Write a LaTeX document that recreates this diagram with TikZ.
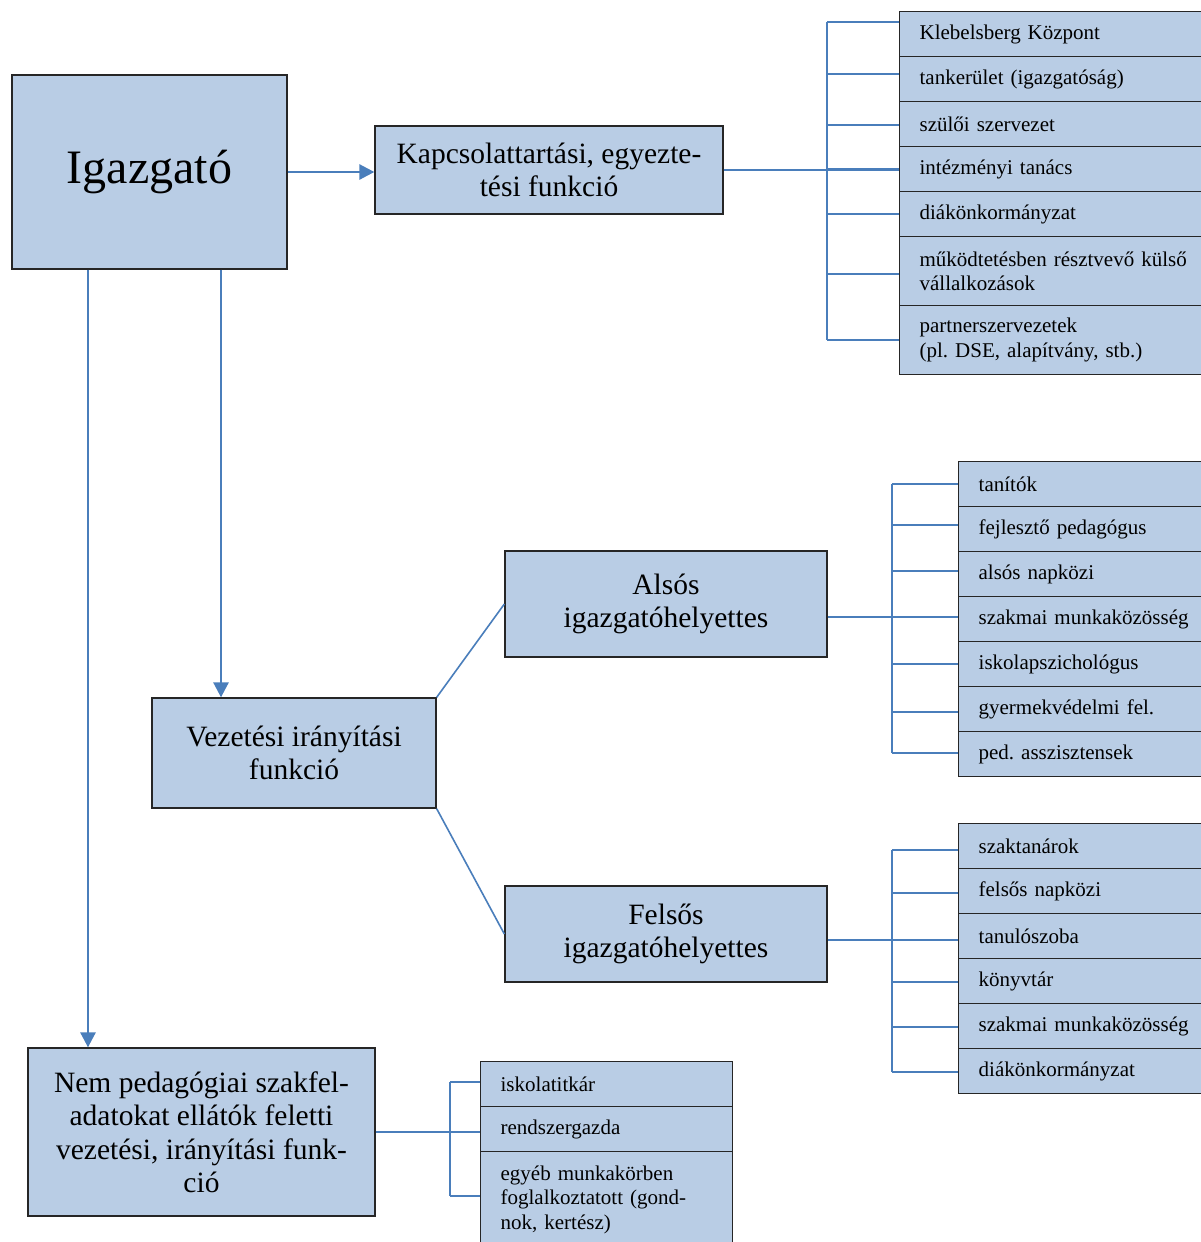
\documentclass[tikz,border=0pt]{standalone}
\usepackage{fontspec}
\setmainfont{Liberation Serif}
\usetikzlibrary{arrows.meta,calc}
\definecolor{boxfill}{HTML}{B9CDE5}
\definecolor{linkblue}{HTML}{4A7EBB}
\frenchspacing
\begin{document}
\begin{tikzpicture}[x=1pt,y=-1pt,
 box/.style={draw=black!85, line width=1.3pt, fill=boxfill, align=center, inner sep=0pt, font=\fontsize{29.5}{33.5}\selectfont},
 row/.style={draw=black!85, line width=1.3pt, fill=boxfill, align=left, inner xsep=20pt, inner ysep=0pt, anchor=north west, text width=300pt, font=\fontsize{21}{24.5}\selectfont},
 arr/.style={linkblue, line width=2.7pt, -{Triangle[length=15pt,width=15pt]}},
 link/.style={linkblue, line width=2pt},
 diag/.style={linkblue, line width=1.6pt},
]
\useasboundingbox[fill=white] (0,0) rectangle (1201,1242);

% main boxes
\node[box, minimum width=275pt, minimum height=194pt, font=\fontsize{48}{55}\selectfont] (igaz) at (149.5,172) {Igazgató};
\node[box, minimum width=348pt, minimum height=88pt] (kap) at (549,170) {Kapcsolattartási, egyezte-\\tési funkció};
\node[box, minimum width=284pt, minimum height=110pt] (vez) at (294,753) {Vezetési irányítási\\funkció};
\node[box, minimum width=322pt, minimum height=106pt] (also) at (666,604) {Alsós\\igazgatóhelyettes};
\node[box, minimum width=322pt, minimum height=96pt] (fel) at (666,934) {Felsős\\igazgatóhelyettes};
\node[box, minimum width=347pt, minimum height=168pt] (nem) at (201.5,1132) {Nem pedagógiai szakfel-\\adatokat ellátók feletti\\vezetési, irányítási funk-\\ció};

% top list
\node[row, minimum height=45pt] (k1) at (899,11) {Klebelsberg Központ};
\node[row, minimum height=45pt] (k2) at (899,56) {tankerület (igazgatóság)};
\node[row, minimum height=45pt] (k3) at (899,101) {szülői szervezet};
\node[row, minimum height=45pt] (k4) at (899,146) {intézményi tanács};
\node[row, minimum height=45pt] (k5) at (899,191) {diákönkormányzat};
\node[row, minimum height=69pt] (k6) at (899,236) {működtetésben résztvevő külső\\vállalkozások};
\node[row, minimum height=69pt] (k7) at (899,305) {partnerszervezetek\\(pl. DSE, alapítvány, stb.)};

% alsós list
\node[row, minimum height=45pt] (a1) at (958,461) {tanítók};
\node[row, minimum height=45pt] (a2) at (958,506) {fejlesztő pedagógus};
\node[row, minimum height=45pt] (a3) at (958,551) {alsós napközi};
\node[row, minimum height=45pt] (a4) at (958,596) {szakmai munkaközösség};
\node[row, minimum height=45pt] (a5) at (958,641) {iskolapszichológus};
\node[row, minimum height=45pt] (a6) at (958,686) {gyermekvédelmi fel.};
\node[row, minimum height=45pt] (a7) at (958,731) {ped. asszisztensek};

% felsős list
\node[row, minimum height=45pt] (f1) at (958,823) {szaktanárok};
\node[row, minimum height=45pt] (f2) at (958,868) {felsős napközi};
\node[row, minimum height=45pt] (f3) at (958,913) {tanulószoba};
\node[row, minimum height=45pt] (f4) at (958,958) {könyvtár};
\node[row, minimum height=45pt] (f5) at (958,1003) {szakmai munkaközösség};
\node[row, minimum height=45pt] (f6) at (958,1048) {diákönkormányzat};

% bottom list
\node[row, text width=212pt, minimum height=45pt] (b1) at (480,1061) {iskolatitkár};
\node[row, text width=212pt, minimum height=45pt] (b2) at (480,1106) {rendszergazda};
\node[row, text width=212pt, minimum height=96pt] (b3) at (480,1151) {egyéb munkakörben\\foglalkoztatott (gond-\\nok, kertész)};

% arrows from Igazgató
\draw[arr] (igaz.east) -- (kap.west |- igaz.east);
\draw[arr] ([xshift=71.5pt]igaz.south) coordinate (s1) -- (s1 |- vez.north);
\draw[arr] ([xshift=-61.5pt]igaz.south) coordinate (s2) -- (s2 |- nem.north);

% diagonals
\draw[diag] (vez.north east) -- (also.west);
\draw[diag] (vez.south east) -- (fel.west);

% top tree
\coordinate (tk) at (827,0);
\draw[link] (kap.east) -- (kap.east -| k1.west);
\draw[link] (tk |- 0,22) -- (tk |- 0,340);
\foreach \n/\y in {k1/22,k2/74,k3/125,k4/169,k5/214,k6/274,k7/340}
  \draw[link] (tk |- 0,\y) -- (\n.west |- 0,\y);

% alsós tree
\coordinate (ta) at (892,0);
\draw[link] (also.east |- 0,617) -- (a4.west |- 0,617);
\draw[link] (ta |- 0,484) -- (ta |- 0,753);
\foreach \n/\y in {a1/484,a2/525,a3/571,a5/664,a6/712,a7/753}
  \draw[link] (ta |- 0,\y) -- (\n.west |- 0,\y);

% felsős tree
\coordinate (tf) at (892,0);
\draw[link] (fel.east |- 0,940) -- (f3.west |- 0,940);
\draw[link] (tf |- 0,850) -- (tf |- 0,1072);
\foreach \n/\y in {f1/850,f2/893,f4/982,f5/1027,f6/1072}
  \draw[link] (tf |- 0,\y) -- (\n.west |- 0,\y);

% bottom tree
\coordinate (tb) at (450,0);
\draw[link] (nem.east) -- (nem.east -| b2.west);
\draw[link] (tb |- 0,1082) -- (tb |- 0,1196);
\foreach \n/\y in {b1/1082,b3/1196}
  \draw[link] (tb |- 0,\y) -- (\n.west |- 0,\y);
\end{tikzpicture}
\end{document}
